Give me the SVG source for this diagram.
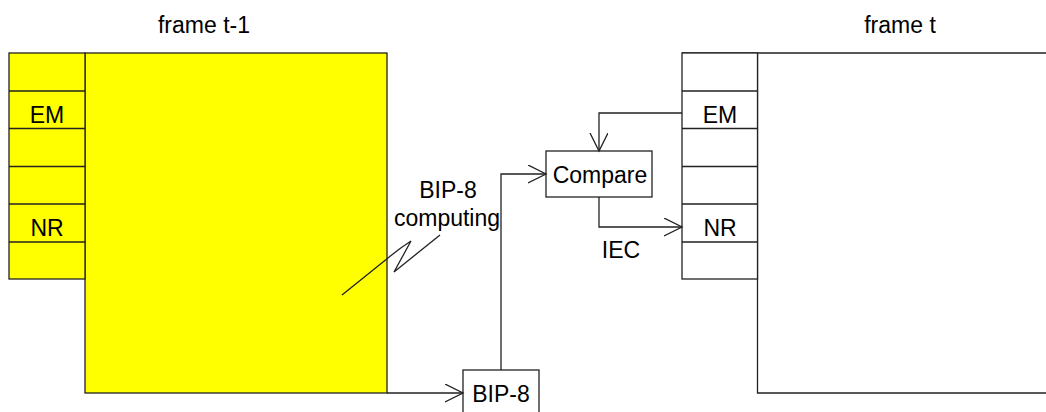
<svg xmlns="http://www.w3.org/2000/svg" width="1046" height="412" viewBox="0 0 1046 412">
<defs>
<style>
text{font-family:"Liberation Sans",Arial,sans-serif;font-size:23px;fill:#000;text-anchor:middle}
.ln{fill:none;stroke:#222;stroke-width:1.3}
.yf{fill:#ffff00;stroke:#222;stroke-width:1.3}
.wf{fill:#fff;stroke:#222;stroke-width:1.3}
</style>
<marker id="ah" markerUnits="userSpaceOnUse" markerWidth="22" markerHeight="22" refX="18" refY="9" orient="auto">
<path d="M0,0 L18,9 L0,18" fill="none" stroke="#222" stroke-width="1.3"/>
</marker>
</defs>
<rect width="1046" height="412" fill="#fff"/>
<g id="frame-t-1">
<text x="204" y="33">frame t-1</text>
<rect class="yf" x="85" y="53" width="302" height="340"/>
<rect class="yf" x="9" y="53" width="76" height="226"/>
<path class="ln" d="M9,91 H85 M9,128.5 H85 M9,166.5 H85 M9,204 H85 M9,242 H85"/>
<text x="47" y="123">EM</text>
<text x="47" y="236">NR</text>
</g>
<g id="frame-t">
<text x="900" y="33">frame t</text>
<path class="ln" d="M682,53 H1046 M757.5,53 V393 H1046"/>
<rect class="wf" x="682" y="53" width="75.5" height="226"/>
<path class="ln" d="M682,91 H757.5 M682,128.5 H757.5 M682,166.5 H757.5 M682,204 H757.5 M682,242 H757.5"/>
<text x="720" y="123">EM</text>
<text x="720" y="236">NR</text>
</g>
<g id="compare">
<rect class="wf" x="546" y="151" width="106" height="46"/>
<text x="600" y="183">Compare</text>
</g>
<g id="bip8">
<rect class="wf" x="463" y="370" width="76" height="50"/>
<text x="501" y="402">BIP-8</text>
</g>
<g id="bip8-computing">
<text x="448" y="198">BIP-8</text>
<text x="447" y="226">computing</text>
</g>
<g id="iec">
<text x="621" y="258">IEC</text>
</g>
<g id="connectors">
<path class="ln" d="M387,393 H463" marker-end="url(#ah)"/>
<path class="ln" d="M501,370 V174 H546" marker-end="url(#ah)"/>
<path class="ln" d="M682,113 H599 V151" marker-end="url(#ah)"/>
<path class="ln" d="M599,197 V227 H682" marker-end="url(#ah)"/>
<path class="ln" d="M342,295 L388,258 Q400,248 411,241 L394,272 L440,235"/>
</g>
</svg>
